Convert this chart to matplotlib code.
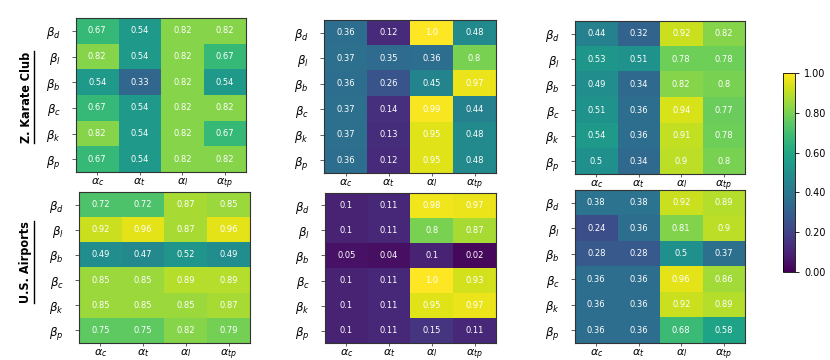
import numpy as np
import matplotlib
matplotlib.use("Agg")
import matplotlib.pyplot as plt
from matplotlib.lines import Line2D

rows = [r"$\beta_d$", r"$\beta_l$", r"$\beta_b$", r"$\beta_c$", r"$\beta_k$", r"$\beta_p$"]
cols = [r"$\alpha_c$", r"$\alpha_t$", r"$\alpha_l$", r"$\alpha_{tp}$"]

# Zachary karate club
karate_1 = [[0.67, 0.54, 0.82, 0.82],
            [0.82, 0.54, 0.82, 0.67],
            [0.54, 0.33, 0.82, 0.54],
            [0.67, 0.54, 0.82, 0.82],
            [0.82, 0.54, 0.82, 0.67],
            [0.67, 0.54, 0.82, 0.82]]
karate_2 = [[0.36, 0.12, 1.0, 0.48],
            [0.37, 0.35, 0.36, 0.8],
            [0.36, 0.26, 0.45, 0.97],
            [0.37, 0.14, 0.99, 0.44],
            [0.37, 0.13, 0.95, 0.48],
            [0.36, 0.12, 0.95, 0.48]]
karate_3 = [[0.44, 0.32, 0.92, 0.82],
            [0.53, 0.51, 0.78, 0.78],
            [0.49, 0.34, 0.82, 0.8],
            [0.51, 0.36, 0.94, 0.77],
            [0.54, 0.36, 0.91, 0.78],
            [0.5, 0.34, 0.9, 0.8]]

# US airports
airports_1 = [[0.72, 0.72, 0.87, 0.85],
              [0.92, 0.96, 0.87, 0.96],
              [0.49, 0.47, 0.52, 0.49],
              [0.85, 0.85, 0.89, 0.89],
              [0.85, 0.85, 0.85, 0.87],
              [0.75, 0.75, 0.82, 0.79]]
airports_2 = [[0.1, 0.11, 0.98, 0.97],
              [0.1, 0.11, 0.8, 0.87],
              [0.05, 0.04, 0.1, 0.02],
              [0.1, 0.11, 1.0, 0.93],
              [0.1, 0.11, 0.95, 0.97],
              [0.1, 0.11, 0.15, 0.11]]
airports_3 = [[0.38, 0.38, 0.92, 0.89],
              [0.24, 0.36, 0.81, 0.9],
              [0.28, 0.28, 0.5, 0.37],
              [0.36, 0.36, 0.96, 0.86],
              [0.36, 0.36, 0.92, 0.89],
              [0.36, 0.36, 0.68, 0.58]]

panels = [karate_1, karate_2, karate_3, airports_1, airports_2, airports_3]

# axes boxes in pixels: left, top, right, bottom
boxes = [(76, 18, 246, 172), (324, 20, 496, 173), (575, 21, 745, 174),
         (79, 192, 250, 343), (325, 193, 496, 343), (575, 190, 745, 343)]

W, H = 830, 360
fig = plt.figure(figsize=(W / 100, H / 100), dpi=100)

im = None
for data, (l, t, r, b) in zip(panels, boxes):
    ax = fig.add_axes([l / W, 1 - b / H, (r - l) / W, (b - t) / H])
    arr = np.array(data)
    im = ax.imshow(arr, cmap="viridis", vmin=0, vmax=1, aspect="auto")
    for i in range(arr.shape[0]):
        for j in range(arr.shape[1]):
            ax.text(j, i, str(data[i][j]), ha="center", va="center",
                    color="white", fontsize=6)
    ax.set_xticks(range(len(cols)))
    ax.set_xticklabels(cols, fontsize=8)
    ax.set_yticks(range(len(rows)))
    ax.set_yticklabels(rows, fontsize=8.5)
    ax.tick_params(axis="x", length=2.5, width=0.6, color="#444444", pad=0.5)
    ax.tick_params(axis="y", length=3, width=0.6, color="#444444", pad=8)
    for s in ax.spines.values():
        s.set_color("#333333")
        s.set_linewidth(0.8)

# colorbar
cax = fig.add_axes([783 / W, 1 - 272 / H, 12 / W, 199 / H])
cb = fig.colorbar(im, cax=cax, ticks=[0, 0.2, 0.4, 0.6, 0.8, 1.0])
cb.ax.set_yticklabels(["0.00", "0.20", "0.40", "0.60", "0.80", "1.00"], fontsize=7)
cb.ax.tick_params(length=3, width=0.6)
cb.outline.set_linewidth(0.6)

# row labels with underline
for label, yc in [("Z. Karate Club", 97), ("U.S. Airports", 262)]:
    txt = fig.text(26 / W, 1 - yc / H, label, rotation=90, ha="center", va="center",
                   fontsize=9, fontweight="bold", fontstretch="condensed")
    fig.canvas.draw()
    bb = txt.get_window_extent()
    x0 = (bb.x1 + 1) / W
    fig.add_artist(Line2D([x0, x0], [bb.y0 / H, bb.y1 / H], color="black", lw=1.0))

fig.savefig("out.png", dpi=100)
